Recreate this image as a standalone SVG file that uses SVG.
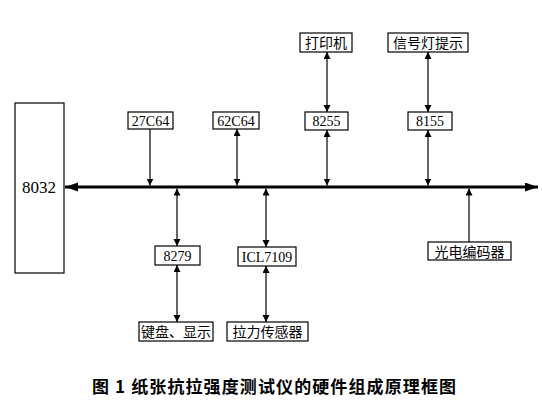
<svg xmlns="http://www.w3.org/2000/svg" width="542" height="407" viewBox="0 0 542 407">
<style>
.box{fill:#fff;stroke:#000;stroke-width:1.2}
.t{font-family:"Liberation Serif",serif;font-size:14px;text-anchor:middle;fill:#000}
.c{font-family:"Noto Sans CJK SC",sans-serif;font-size:14px;text-anchor:middle;fill:#000}
.ln{stroke:#000;stroke-width:1.2;fill:none;marker-end:url(#a)}
.bi{marker-start:url(#a)}
.bus{stroke:#000;stroke-width:3;fill:none;marker-start:url(#b);marker-end:url(#b)}
.cap{font-family:"Noto Sans CJK SC",sans-serif;font-size:17px;font-weight:bold;fill:#000}
</style>
<defs>
<marker id="a" markerUnits="userSpaceOnUse" markerWidth="8" markerHeight="8" refX="7" refY="3.5" orient="auto-start-reverse"><path d="M0,0 L7,3.5 L0,7 z" fill="#000"/></marker>
<marker id="b" markerUnits="userSpaceOnUse" markerWidth="14" markerHeight="10" refX="13" refY="4.5" orient="auto-start-reverse"><path d="M0,0 L13,4.5 L0,9 z" fill="#000"/></marker>
</defs>
<g id="n8032"><rect class="box" x="15" y="103" width="49" height="170"/><text class="t" x="39" y="193" style="font-size:17px">8032</text></g>
<g id="n27c64"><rect class="box" x="128" y="112" width="45" height="17"/><text class="t" x="150.5" y="125.5">27C64</text></g>
<g id="n62c64"><rect class="box" x="213" y="112" width="46" height="17"/><text class="t" x="236" y="125.5">62C64</text></g>
<g id="nprinter"><rect class="box" x="300" y="33" width="52" height="19"/><text class="c" x="326" y="48">打印机</text></g>
<g id="n8255"><rect class="box" x="305" y="112" width="43" height="18"/><text class="t" x="326.5" y="126">8255</text></g>
<g id="nsignal"><rect class="box" x="388" y="33" width="80" height="19"/><text class="c" x="428" y="48">信号灯提示</text></g>
<g id="n8155"><rect class="box" x="408" y="112" width="44" height="18"/><text class="t" x="430" y="126">8155</text></g>
<g id="n8279"><rect class="box" x="155" y="246" width="45" height="19"/><text class="t" x="177.5" y="260.5">8279</text></g>
<g id="nkbd"><rect class="box" x="139" y="322" width="74" height="19"/><text class="c" x="176" y="337">键盘、显示</text></g>
<g id="nicl"><rect class="box" x="238" y="247" width="58" height="19"/><text class="t" x="267" y="261.5">ICL7109</text></g>
<g id="nsensor"><rect class="box" x="227" y="322" width="81" height="19"/><text class="c" x="267.5" y="337">拉力传感器</text></g>
<g id="nenc"><rect class="box" x="428" y="242" width="83" height="18"/><text class="c" x="469.5" y="256.5">光电编码器</text></g>
<g id="connectors">
<line class="bus" x1="65" y1="187" x2="538" y2="187"/>
<line class="ln" x1="150" y1="129" x2="150" y2="185.5"/>
<line class="ln bi" x1="237" y1="129" x2="237" y2="185.5"/>
<line class="ln bi" x1="327" y1="52" x2="327" y2="112"/>
<line class="ln bi" x1="327" y1="130" x2="327" y2="185.5"/>
<line class="ln bi" x1="428" y1="52" x2="428" y2="112"/>
<line class="ln bi" x1="428" y1="130" x2="428" y2="185.5"/>
<line class="ln bi" x1="177" y1="188.5" x2="177" y2="246"/>
<line class="ln bi" x1="177" y1="265" x2="177" y2="322"/>
<line class="ln bi" x1="266" y1="188.5" x2="266" y2="247"/>
<line class="ln bi" x1="266" y1="266" x2="266" y2="322"/>
<line class="ln" x1="469" y1="242" x2="469" y2="188.5"/>
</g>
<text class="cap" x="92" y="393" textLength="364" lengthAdjust="spacing">图 1 纸张抗拉强度测试仪的硬件组成原理框图</text>
</svg>
